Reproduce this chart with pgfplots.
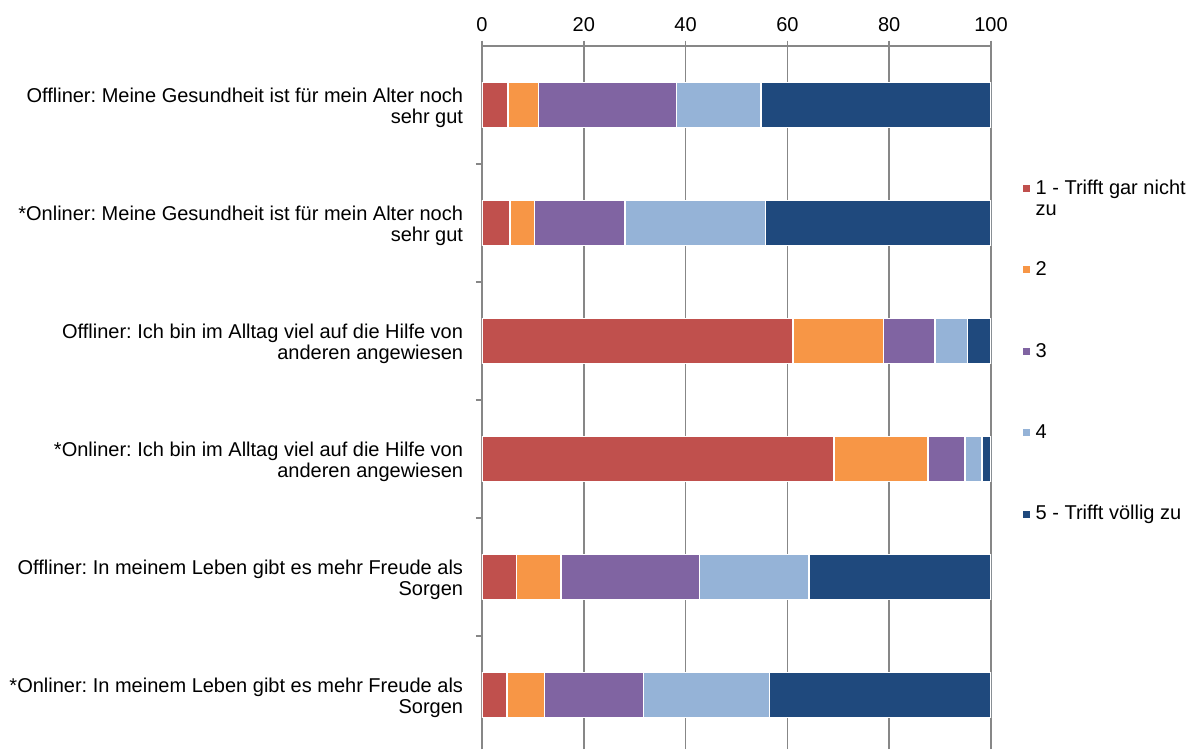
\documentclass[border=0pt]{standalone}
\usepackage{pgfplots}
\pgfplotsset{compat=1.18}
\usepackage{fontspec}
\setmainfont{Liberation Sans}
\definecolor{c1}{HTML}{C0504D}
\definecolor{c2}{HTML}{F79646}
\definecolor{c3}{HTML}{8064A2}
\definecolor{c4}{HTML}{95B3D7}
\definecolor{c5}{HTML}{1F497D}
\definecolor{gridc}{HTML}{878787}
\begin{document}
\frenchspacing
\fontsize{15}{15.75}\selectfont
\begin{tikzpicture}
\begin{axis}[
  at={(0pt,0pt)}, anchor=south west,
  width=381.75pt, height=527.25pt, scale only axis,
  xbar stacked, bar width=33.75pt,
  xmin=0, xmax=100, ymin=-0.458, ymax=5.5,
  axis x line*=top, axis y line*=left,
  axis line style={gridc, line width=1.1pt},
  xtick={0,20,40,60,80,100},
  xmajorgrids, major grid style={gridc, line width=1.1pt},
  x tick style={gridc, line width=1.1pt},
  tick align=outside, major tick length=4pt,
  /pgf/number format/assume math mode=true,
  xticklabel style={font=\fontsize{15}{15.75}\selectfont, yshift=1.5pt},
  ytick={0,1,2,3,4,5},
  y tick style={draw=none},
  yticklabels={
    {*Onliner: In meinem Leben gibt es mehr Freude als\\Sorgen},
    {Offliner: In meinem Leben gibt es mehr Freude als\\Sorgen},
    {*Onliner: Ich bin im Alltag viel auf die Hilfe von\\anderen angewiesen},
    {Offliner: Ich bin im Alltag viel auf die Hilfe von\\anderen angewiesen},
    {*Onliner: Meine Gesundheit ist für mein Alter noch\\sehr gut},
    {Offliner: Meine Gesundheit ist für mein Alter noch\\sehr gut}},
  yticklabel style={align=right, font=\fontsize{15}{15.75}\selectfont, inner sep=0pt, xshift=-10pt, yshift=-2pt},
  extra y ticks={0.5,1.5,2.5,3.5,4.5},
  extra y tick labels={},
  extra y tick style={y tick style={draw=gridc, line width=1.1pt}, major tick length=4.5pt},
  legend cell align=left,
  legend style={draw=none, fill=none, at={(1.0622,0.81)}, anchor=north west,
    inner sep=0pt, outer sep=0pt, row sep=47.8pt, column sep=4.5pt,
    nodes={inner sep=0pt}, font=\fontsize{15}{15.75}\selectfont},
  legend image code/.code={\fill[#1, draw=none] (0pt,-2.6pt) rectangle (5.25pt,2.6pt);},
]
\addplot[fill=c1, draw=white, line width=1.2pt] coordinates {(4.9,0) (6.8,1) (69.1,2) (61.1,3) (5.5,4) (5.1,5)};
\addplot[fill=c2, draw=white, line width=1.2pt] coordinates {(7.4,0) (8.7,1) (18.5,2) (17.8,3) (4.8,4) (6.0,5)};
\addplot[fill=c3, draw=white, line width=1.2pt] coordinates {(19.4,0) (27.2,1) (7.3,2) (10.1,3) (17.8,4) (27.1,5)};
\addplot[fill=c4, draw=white, line width=1.2pt] coordinates {(24.8,0) (21.6,1) (3.3,2) (6.4,3) (27.6,4) (16.6,5)};
\addplot[fill=c5, draw=white, line width=1.2pt] coordinates {(43.5,0) (35.7,1) (1.8,2) (4.6,3) (44.3,4) (45.2,5)};
\addlegendentry{\strut\smash{\begin{tabular}[t]{@{}l@{}}1 - Trifft gar nicht\\zu\end{tabular}}}
\addlegendentry{\strut 2}
\addlegendentry{\strut 3}
\addlegendentry{\strut 4}
\addlegendentry{\strut 5 - Trifft völlig zu}
\end{axis}
\pgfresetboundingbox
\path[use as bounding box] (-361.5pt,0pt) rectangle (531.75pt,561.75pt);
\end{tikzpicture}
\end{document}
